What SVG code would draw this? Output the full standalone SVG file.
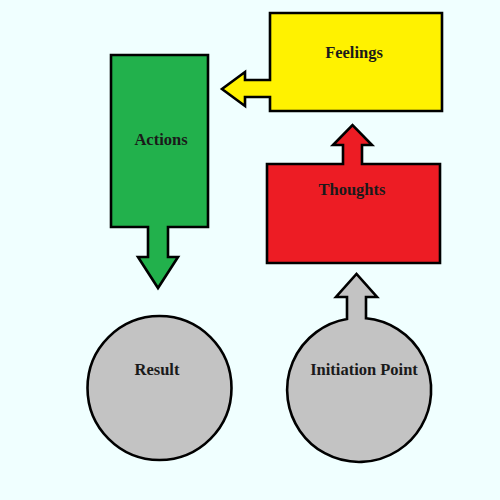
<svg xmlns="http://www.w3.org/2000/svg" width="500" height="500" viewBox="0 0 500 500">
<style>
.s{stroke:#000;stroke-width:2.6;stroke-linejoin:miter}
.t{font-family:"Liberation Serif","DejaVu Serif",serif;font-weight:bold;font-size:16.5px;fill:#1a1a1a;text-anchor:middle}
</style>
<rect width="500" height="500" fill="#F0FFFF"/>
<g id="feelings">
<path class="s" fill="#FFF200" d="M270,13 H442 V111 H270 V97 H245 V106 L222,89 L245,72 V80 H270 Z"/>
<text class="t" x="354" y="58">Feelings</text>
</g>
<g id="actions">
<path class="s" fill="#22B14C" d="M111,55 H208 V227 H168 V257 H178 L158,288 L138,257 H148 V227 H111 Z"/>
<text class="t" x="161" y="145">Actions</text>
</g>
<g id="thoughts">
<path class="s" fill="#ED1C24" d="M267,164 H343 V145 H333 L352.5,125 L372,145 H362 V164 H440 V263 H267 Z"/>
<text class="t" x="352" y="195">Thoughts</text>
</g>
<g id="result">
<circle class="s" fill="#C3C3C3" cx="159.5" cy="388" r="72"/>
<text class="t" x="157" y="375">Result</text>
</g>
<g id="initiation">
<path class="s" fill="#C3C3C3" d="M347,319 V297 H336 L356.5,274 L377,297 H366 V318.3 A72,72 0 1 1 347,319 Z"/>
<text class="t" x="364" y="375">Initiation Point</text>
</g>
<g id="connectors"/>
</svg>
